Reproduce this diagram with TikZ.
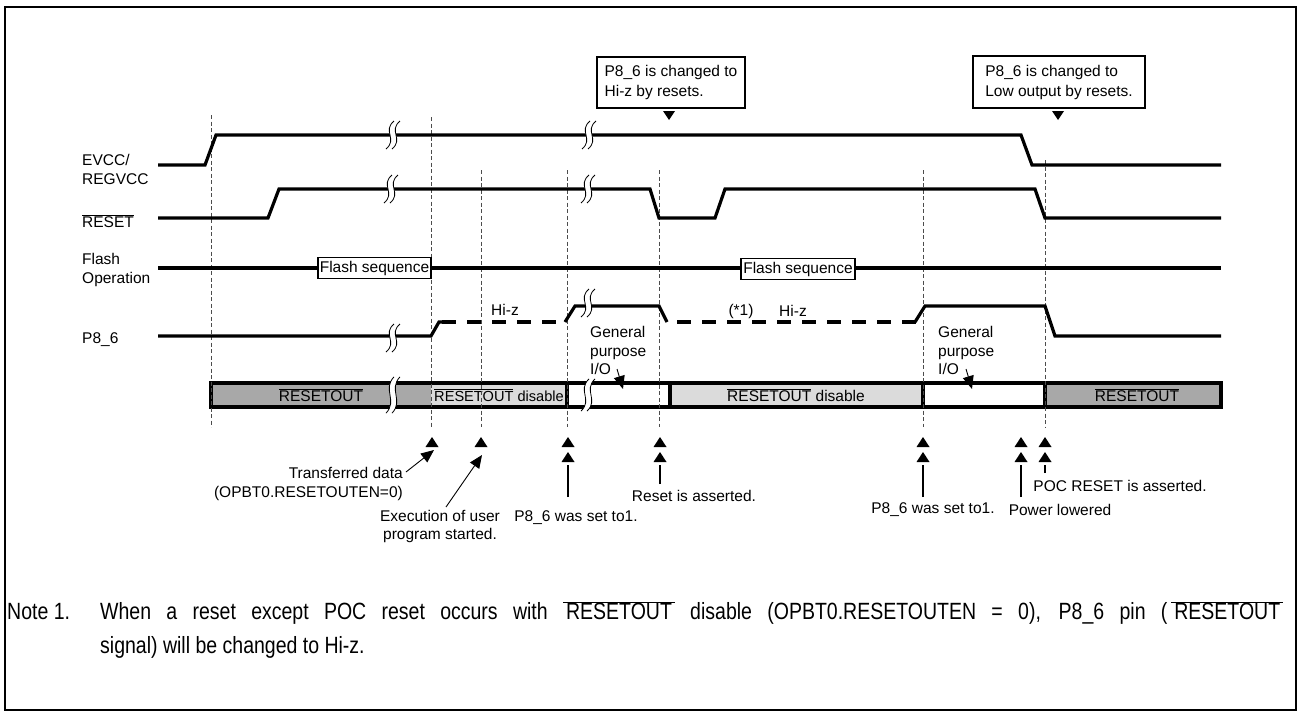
\documentclass[tikz,border=0pt]{standalone}
\usepackage{fontspec}
\setmainfont{Liberation Sans}
\newfontfamily\notefont[FakeStretch=0.83]{Liberation Sans}
\usetikzlibrary{arrows.meta}
\newcommand\ovl[1]{$\overline{\mbox{#1}}$}
\newcommand\ovlw[1]{$\overline{\mbox{\kern3pt#1\kern3pt}}$}
\definecolor{dkbar}{gray}{0.66}
\definecolor{ltbar}{gray}{0.86}
\begin{document}
\begin{tikzpicture}[x=1pt,y=-1pt,
  sig/.style={line width=3.2pt},
  hiz/.style={line width=3.2pt, dash pattern=on 14pt off 11pt},
  guide/.style={line width=0.7pt, draw=black!70, dash pattern=on 4pt off 2.5pt},
  txt/.style={font=\fontsize{15.5}{18.5}\selectfont, inner sep=0pt},
  notetxt/.style={anchor=base west, inner sep=0pt, font=\notefont\fontsize{23.5}{28}\selectfont},
  seqbox/.style={txt, draw, line width=1.6pt, fill=white, inner xsep=2pt, minimum height=21pt},
  callout/.style={txt, draw, line width=1.6pt, fill=white, align=left, font=\fontsize{15.5}{20}\selectfont},
  barline/.style={line width=3.2pt},
  ptr/.style={-{Triangle[length=13pt,width=11pt]}, line width=0.9pt},
  brk/.pic={
    \fill[white] (4,-14) .. controls (-8,-4) and (8,4) .. (-4,14) -- (2,14) .. controls (14,4) and (-2,-4) .. (10,-14) -- cycle;
    \draw[line width=0.8pt] (4,-14) .. controls (-8,-4) and (8,4) .. (-4,14);
    \draw[line width=0.8pt] (10,-14) .. controls (-2,-4) and (14,4) .. (2,14);
  },
  uptri/.pic={\fill (0,0) -- (6.5,10) -- (-6.5,10) -- cycle;}
]
\useasboundingbox (0,0) rectangle (1301,716);
\draw[line width=2pt] (5,7) rectangle (1296,710);

% ---------- signal labels
\node[txt, align=left, anchor=west] (lEV) at (82,169.5) {EVCC/\\REGVCC};
\node[txt, anchor=west] (lRS) at (82,221) {\ovl{RESET}};
\node[txt, align=left, anchor=west] (lFO) at (82,270) {Flash\\Operation};
\node[txt, anchor=west] (lP8) at (82,340) {P8\_6};

% ---------- bar
\fill[dkbar] (211,383) rectangle (431,407);
\fill[ltbar] (431,383) rectangle (567,407);
\fill[white] (567,383) rectangle (670,407);
\fill[ltbar] (670,383) rectangle (923,407);
\fill[white] (923,383) rectangle (1045,407);
\fill[dkbar] (1045,383) rectangle (1221,407);
\draw[barline] (211,383) rectangle (1221,407);
\foreach \x in {567,670,923,1045} \draw[barline] (\x,383) -- (\x,407);
\node[txt] (b1) at (321,395) {\ovl{RESETOUT}};
\node[txt, font=\fontsize{14.6}{17}\selectfont] (b2) at (499,395) {\ovl{RESETOUT} disable};
\node[txt] (b3) at (796,395) {\ovl{RESETOUT} disable};
\node[txt] (b4) at (1137,395) {\ovl{RESETOUT}};

% ---------- guides
\foreach \x/\t in {211/115,431/117,481/170,567/170,659/170,923/170,1045/160}
  \draw[guide] (\x,\t) -- (\x,427);

% ---------- signals
\draw[sig] (158,165) -- (205,165) -- (216,135) -- (1021,135) -- (1032,165) -- (1221,165);
\draw[sig] (158,218) -- (268,218) -- (279,189) -- (650,189) -- (659,218) -- (715,218) -- (725,189) -- (1035,189) -- (1045,218) -- (1221,218);
\draw[sig] (158,268) -- (1221,268);
\draw[sig] (158,336) -- (431,336) -- (439,322) -- (442,322);
\draw[hiz] (442,322) -- (566,322);
\draw[sig] (565,322) -- (575,306) -- (659,306) -- (667,322);
\draw[hiz] (677,322) -- (916,322);
\draw[sig] (915,322) -- (925,306) -- (1045,306) -- (1055,336) -- (1221,336);

\node[seqbox] (fs1) at (374.5,268) {Flash sequence};
\node[seqbox] (fs2) at (798,269) {Flash sequence};

% ---------- breaks
\pic at (390,135) {brk};
\pic at (586,135) {brk};
\pic at (388,189) {brk};
\pic at (585,189) {brk};
\pic at (390,338) {brk};
\pic at (585,303) {brk};
\pic[yscale=1.3] at (390,395) {brk};
\pic[yscale=1.15] at (585,395) {brk};

% ---------- state texts
\node[txt] (hz1) at (505,310) {Hi-z};
\node[txt] (st1) at (741,311) {(*1)};
\node[txt] (hz2) at (793,311) {Hi-z};
\node[txt, align=left, anchor=west] (gp1) at (590,350.5) {General\\purpose\\I/O};
\node[txt, align=left, anchor=west] (gp2) at (938,350.5) {General\\purpose\\I/O};
\coordinate (gp1a) at (617,369);
\coordinate (gp1b) at (623,389);
\coordinate (gp2a) at (966,369);
\coordinate (gp2b) at (972,389);
\draw[ptr] (gp1a) -- (gp1b);
\draw[ptr] (gp2a) -- (gp2b);

% ---------- callouts
\node[callout, minimum width=148pt, minimum height=51pt] (co1) at (671,82.5) {P8\_6 is changed to\\Hi-z by resets.};
\node[callout, minimum width=172pt, minimum height=52pt] (co2) at (1059,82) {P8\_6 is changed to\\Low output by resets.};
\fill (663,111) -- (675,111) -- (669,120) -- cycle;
\fill (1052,111) -- (1064,111) -- (1058,120) -- cycle;

% ---------- event markers
\foreach \x in {432,481,568,660,923,1021,1045} \pic at (\x,437) {uptri};
\foreach \x in {568,660,923,1021,1045} \pic at (\x,452) {uptri};

\node[txt, align=right, anchor=east] (tr) at (403,484) {Transferred data\\(OPBT0.RESETOUTEN=0)};
\node[txt, align=center] (ex) at (440,526.5) {Execution of user\\program started.};
\node[txt] (s1) at (576,518) {P8\_6 was set to1.};
\node[txt] (ra) at (694,496) {Reset is asserted.};
\node[txt] (s2) at (933,510) {P8\_6 was set to1.};
\node[txt] (pl) at (1060,510) {Power lowered};
\node[txt] (pr) at (1120,486) {POC RESET is asserted.};

\coordinate (trA) at (406,472);
\coordinate (trB) at (434,450);
\coordinate (exA) at (446,507);
\coordinate (exB) at (482,455);
\draw[ptr] (trA) -- (trB);
\draw[ptr] (exA) -- (exB);
\coordinate (s1t) at (568,465);
\coordinate (rat) at (660,465);
\coordinate (s2t) at (923,465);
\coordinate (plt) at (1021,465);
\coordinate (prt) at (1045,465);
\draw[line width=1.2pt] (568,497) -- (s1t);
\draw[line width=1.2pt] (660,484) -- (rat);
\draw[line width=1.2pt] (923,497) -- (s2t);
\draw[line width=1.2pt] (1021,497) -- (plt);
\draw[line width=1.2pt] (1045,473) -- (prt);

% ---------- note
\node[notetxt] (nt) at (7,619.5) {Note 1.};
\node[notetxt] (nl1) at (100,619.5)
  {\makebox[1183pt][s]{When a reset except POC reset occurs with \ovlw{RESETOUT} disable (OPBT0.RESETOUTEN = 0), P8\_6 pin (\,\ovlw{RESETOUT}}};
\node[notetxt] (nl2) at (100,653.5) {signal) will be changed to Hi-z.};
\end{tikzpicture}
\end{document}
